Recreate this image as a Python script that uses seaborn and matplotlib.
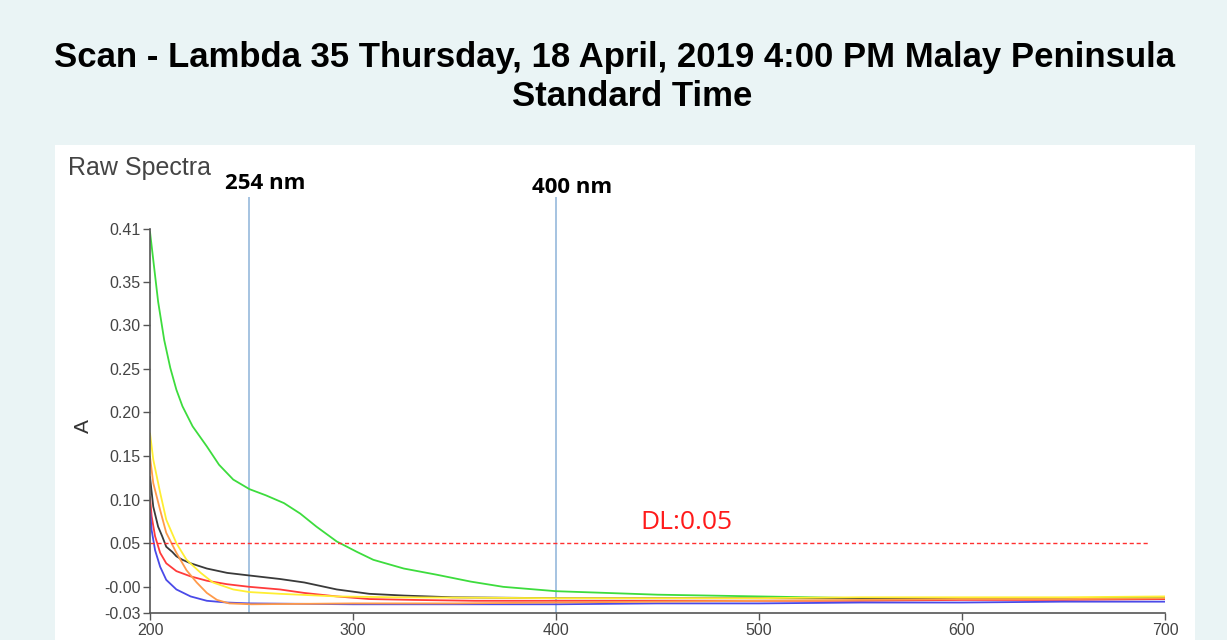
import pandas as pd
import matplotlib.pyplot as plt
import seaborn as sns
from matplotlib.patches import Rectangle

# each scan: wavelength (nm) and absorbance
green_nm = [200, 202, 204, 207, 210, 213, 216, 221, 228, 234, 241, 249, 257, 266, 274, 282, 292, 302,
            310, 325, 341, 358, 374, 400, 450, 500, 550, 600, 650, 700]
green_a = [0.407, 0.367, 0.327, 0.283, 0.251, 0.226, 0.207, 0.184, 0.161, 0.140, 0.123, 0.112, 0.105, 0.096,
           0.084, 0.069, 0.052, 0.040, 0.031, 0.021, 0.014, 0.006, 0.000, -0.005, -0.009, -0.011, -0.013,
           -0.013, -0.013, -0.012]

black_nm = [200, 201.6, 204, 206, 208, 211, 213, 216, 220, 228, 238, 249, 264, 276, 292, 308, 325, 349,
            400, 450, 500, 550, 600, 650, 700]
black_a = [0.126, 0.092, 0.069, 0.058, 0.046, 0.040, 0.035, 0.031, 0.027, 0.021, 0.016, 0.013, 0.009, 0.005,
           -0.003, -0.008, -0.010, -0.012, -0.013, -0.013, -0.013, -0.013, -0.014, -0.014, -0.014]

red_nm = [200, 200.8, 202.5, 205, 208, 213, 220, 228, 238, 249, 264, 276, 292, 308, 330, 360, 400, 450,
          500, 550, 600, 650, 700]
red_a = [0.103, 0.081, 0.058, 0.039, 0.027, 0.018, 0.012, 0.007, 0.003, 0.000, -0.003, -0.007, -0.011,
         -0.014, -0.015, -0.016, -0.016, -0.016, -0.016, -0.016, -0.015, -0.015, -0.014]

blue_nm = [200, 200.8, 202.5, 205, 208, 213, 220, 228, 238, 249, 300, 350, 400, 450, 500, 550, 600, 650, 700]
blue_a = [0.090, 0.065, 0.042, 0.023, 0.008, -0.003, -0.011, -0.016, -0.018, -0.019, -0.020, -0.020, -0.020,
          -0.019, -0.019, -0.018, -0.018, -0.017, -0.017]

orange_nm = [200, 201.6, 205, 208, 213, 218, 223, 228, 233, 239, 250, 300, 350, 400, 450, 500, 550, 600,
             650, 700]
orange_a = [0.149, 0.119, 0.088, 0.062, 0.039, 0.019, 0.005, -0.007, -0.015, -0.019, -0.020, -0.019, -0.019,
            -0.018, -0.017, -0.016, -0.015, -0.014, -0.014, -0.013]

yellow_nm = [200, 201.6, 205, 208, 213, 218, 225, 231, 241, 249, 264, 292, 320, 400, 450, 500, 550, 600,
             650, 700]
yellow_a = [0.176, 0.146, 0.108, 0.077, 0.050, 0.031, 0.016, 0.005, -0.003, -0.006, -0.008, -0.011, -0.012,
            -0.013, -0.013, -0.013, -0.012, -0.012, -0.012, -0.011]

colours = {'green': '#3ddc3d', 'black': '#3a3a3a', 'red': '#ff3b3b', 'blue': '#4a4ae8',
           'orange': '#ff9a4a', 'yellow': '#ffee33'}

yticks = [-0.03, 0.00, 0.05, 0.10, 0.15, 0.20, 0.25, 0.30, 0.35, 0.41]
ytick_labels = ['-0.03', '-0.00', '0.05', '0.10', '0.15', '0.20', '0.25', '0.30', '0.35', '0.41']
xticks = [200, 300, 400, 500, 600, 700]
marker_lines = [249, 400]          # vertical guide lines
marker_labels = ['254 nm', '400 nm']
detection_limit = 0.05

# long form table for seaborn
parts = []
for name, nm, a in [('green', green_nm, green_a), ('black', black_nm, black_a), ('red', red_nm, red_a),
                    ('blue', blue_nm, blue_a), ('orange', orange_nm, orange_a), ('yellow', yellow_nm, yellow_a)]:
    parts.append(pd.DataFrame({'nm': nm, 'A': a, 'scan': name}))
df = pd.concat(parts, ignore_index=True)

sns.set_style('white')
plt.rcParams['font.family'] = ['Liberation Sans', 'DejaVu Sans']

fig = plt.figure(figsize=(12.27, 6.4), dpi=100)
fig.patch.set_facecolor('#eaf4f5')
# white panel the chart sits on (behind the axes)
fig.patches.append(Rectangle((55 / 1227, 0), 1140 / 1227, 495 / 640, transform=fig.transFigure,
                             facecolor='white', edgecolor='none', zorder=-5))

ax = fig.add_axes([150 / 1227, 1 - 613 / 640, 1015 / 1227, 416 / 640])
ax.set_facecolor('none')
ax.set_zorder(2)

sns.lineplot(data=df, x='nm', y='A', hue='scan', palette=colours, estimator=None, sort=False,
             linewidth=1.3, legend=False, ax=ax)

ax.set_xlim(200, 700)
ax.set_ylim(-0.03, 0.447)

for x in marker_lines:
    ax.axvline(x, color='#8db3d9', linewidth=1.1, zorder=0)
ax.plot([200, 691.5], [detection_limit, detection_limit], color='#ff3030', linestyle=(0, (3, 2)), linewidth=1)

ax.text(256.7, 0.463, marker_labels[0], fontsize=16, fontweight='bold', family='Open Sans',
        ha='center', va='center', color='black')
ax.text(408, 0.458, marker_labels[1], fontsize=16, fontweight='bold', family='Open Sans',
        ha='center', va='center', color='black')
ax.text(441.5, 0.0733, 'DL:0.05', fontsize=19, family='Open Sans', color='#ff1a1a',
        ha='left', va='center')

ax.set_yticks(yticks)
ax.set_yticklabels(ytick_labels)
ax.set_xticks(xticks)
ax.tick_params(axis='both', direction='out', length=5, width=1, color='#555555',
               labelsize=11.5, labelcolor='#444444', pad=2, left=True, bottom=True)
ax.set_xlabel('')
ax.set_ylabel('A', fontsize=15, color='#333333')
ax.yaxis.set_label_coords((93 - 150) / 1015, (613 - 426) / 416)

for s in ['top', 'right']:
    ax.spines[s].set_visible(False)
for s in ['left', 'bottom']:
    ax.spines[s].set_color('#555555')
    ax.spines[s].set_linewidth(1.2)
ax.spines['left'].set_bounds(-0.03, 0.41)

fig.text(68 / 1227, 1 - 168 / 640, 'Raw Spectra', fontsize=18, color='#444444', ha='left', va='center')

fig.text(615 / 1227, 1 - 57 / 640, 'Scan - Lambda 35 Thursday, 18 April, 2019 4:00 PM Malay Peninsula',
         fontsize=25, fontweight='bold', ha='center', va='center', color='black')
fig.text(632 / 1227, 1 - 97 / 640, 'Standard Time',
         fontsize=25, fontweight='bold', ha='center', va='center', color='black')

fig.savefig('out.png', dpi=100, facecolor=fig.get_facecolor())
